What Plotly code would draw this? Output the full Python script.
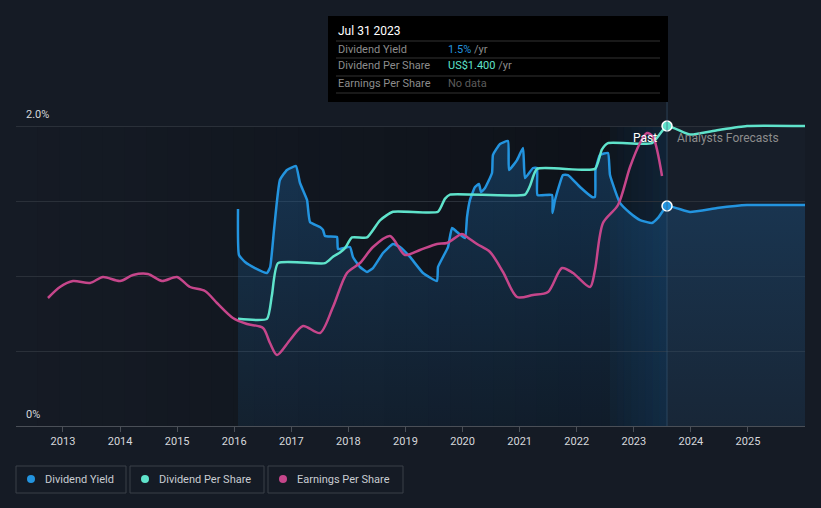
import plotly.graph_objects as go

# ---------------- data ----------------
yield_x = [2016.066, 2016.083, 2016.19, 2016.364, 2016.574, 2016.63, 2016.70, 2016.80, 2016.924, 2017.082,
           2017.152, 2017.275, 2017.327, 2017.502, 2017.555, 2017.59, 2017.80, 2017.818, 2018.028, 2018.08,
           2018.203, 2018.326, 2018.431, 2018.606, 2018.781, 2018.904, 2019.079, 2019.307, 2019.552, 2019.57,
           2019.657, 2019.745, 2019.815, 2019.903, 2020.043, 2020.078, 2020.13, 2020.218, 2020.288, 2020.323,
           2020.393, 2020.516, 2020.533, 2020.656, 2020.796, 2020.814, 2020.954, 2021.059, 2021.094, 2021.234,
           2021.304, 2021.313, 2021.567, 2021.576, 2021.62, 2021.76, 2021.847, 2022.057, 2022.268, 2022.32,
           2022.329, 2022.408, 2022.548, 2022.583, 2022.758, 2022.934, 2023.109, 2023.319, 2023.424, 2023.582,
           2023.985, 2024.458, 2024.983, 2025.999]
yield_pct = [1.447, 1.14, 1.093, 1.053, 1.02, 1.06, 1.32, 1.64, 1.707, 1.733,
             1.62, 1.507, 1.36, 1.327, 1.307, 1.267, 1.26, 1.18, 1.193, 1.127,
             1.06, 1.027, 1.053, 1.153, 1.213, 1.193, 1.127, 1.02, 0.967, 1.06,
             1.127, 1.193, 1.32, 1.293, 1.253, 1.393, 1.507, 1.593, 1.613, 1.56,
             1.587, 1.687, 1.807, 1.88, 1.90, 1.707, 1.773, 1.853, 1.653, 1.72,
             1.72, 1.54, 1.54, 1.42, 1.507, 1.673, 1.673, 1.593, 1.527, 1.527,
             1.707, 1.807, 1.82, 1.673, 1.487, 1.42, 1.373, 1.353, 1.387, 1.467,
             1.427, 1.453, 1.473, 1.473]

dps_x = [2016.066, 2016.574, 2016.66, 2016.767, 2017.59, 2017.73, 2017.853, 2017.94, 2018.063, 2018.326,
         2018.554, 2018.781, 2019.57, 2019.69, 2019.78, 2021.094, 2021.18, 2021.304, 2022.32, 2022.44,
         2022.548, 2023.319, 2023.582, 2023.985, 2024.458, 2024.983, 2025.999]
dps_usd = [0.50, 0.50, 0.61, 0.76, 0.76, 0.79, 0.81, 0.83, 0.88, 0.88,
           0.96, 1.00, 1.00, 1.06, 1.08, 1.08, 1.12, 1.20, 1.20, 1.29,
           1.32, 1.32, 1.40, 1.36, 1.38, 1.40, 1.40]

eps_x = [2012.737, 2012.947, 2013.175, 2013.473, 2013.70, 2013.999, 2014.226, 2014.489, 2014.734, 2014.997,
         2015.225, 2015.488, 2015.698, 2015.978, 2016.224, 2016.504, 2016.626, 2016.749, 2016.977, 2017.205,
         2017.502, 2017.73, 2017.975, 2018.203, 2018.431, 2018.729, 2018.992, 2019.254, 2019.552, 2019.727,
         2019.99, 2020.078, 2020.253, 2020.481, 2020.709, 2020.954, 2021.234, 2021.497, 2021.742, 2021.935,
         2022.233, 2022.32, 2022.46, 2022.723, 2022.934, 2023.109, 2023.232, 2023.336, 2023.494]
eps_usd = [1.28, 1.39, 1.45, 1.43, 1.49, 1.45, 1.51, 1.52, 1.45, 1.49,
           1.39, 1.35, 1.23, 1.08, 1.02, 0.98, 0.83, 0.71, 0.86, 1.00,
           0.93, 1.19, 1.53, 1.63, 1.79, 1.90, 1.71, 1.76, 1.82, 1.83,
           1.92, 1.89, 1.82, 1.74, 1.54, 1.29, 1.31, 1.34, 1.58, 1.53,
           1.39, 1.56, 2.03, 2.21, 2.59, 2.83, 2.93, 2.89, 2.50]

year_ticks = [2013, 2014, 2015, 2016, 2017, 2018, 2019, 2020, 2021, 2022, 2023, 2024, 2025]
year_labels = [str(y) for y in year_ticks]

now_x = 2023.582
now_yield = 1.467
now_dps = 1.40
x_start, x_end = 2012.177, 2025.999
y_top = 2.0
y_max = 2.1667  # yield axis max (plot area top)

legend_items = ["Dividend Yield", "Dividend Per Share", "Earnings Per Share"]

BLUE = "#2394df"
TEAL = "#5fe3cb"
MAGENTA = "#c6468b"
BG = "#151b25"

# ---------------- figure ----------------
fig = go.Figure()

fig.add_trace(go.Scatter(
    x=yield_x, y=yield_pct, mode="lines", yaxis="y",
    line=dict(color=BLUE, width=2.5, shape="spline", smoothing=0.4),
    fill="tozeroy",
    fillgradient=dict(type="vertical",
                      colorscale=[[0, "rgba(30,100,160,0.12)"], [1, "rgba(30,105,170,0.36)"]]),
    hoverinfo="skip", showlegend=False))

fig.add_trace(go.Scatter(
    x=dps_x, y=dps_usd, mode="lines", yaxis="y2",
    line=dict(color=TEAL, width=2.5, shape="spline", smoothing=0.5),
    hoverinfo="skip", showlegend=False))

fig.add_trace(go.Scatter(
    x=eps_x, y=eps_usd, mode="lines", yaxis="y3",
    line=dict(color=MAGENTA, width=2.5, shape="spline", smoothing=0.8),
    hoverinfo="skip", showlegend=False))

fig.add_trace(go.Scatter(
    x=[now_x], y=[now_yield], mode="markers", yaxis="y",
    marker=dict(color=BLUE, size=10, line=dict(color="white", width=1.5)),
    hoverinfo="skip", showlegend=False))
fig.add_trace(go.Scatter(
    x=[now_x], y=[now_dps], mode="markers", yaxis="y2",
    marker=dict(color=TEAL, size=10, line=dict(color="white", width=1.5)),
    hoverinfo="skip", showlegend=False))

shapes = []
# darkening gradient over the past region
n = 30
c0 = (21, 27, 37)
c1 = (13, 17, 24)
w = (now_x - x_start) / n
for i in range(n):
    t = (i + 0.5) / n
    col = tuple(round(c0[k] + (c1[k] - c0[k]) * t) for k in range(3))
    shapes.append(dict(type="rect", xref="x", yref="y", layer="below",
                       x0=x_start + i * w, x1=x_start + (i + 1) * w + 0.01, y0=0, y1=y_top,
                       fillcolor="rgb(%d,%d,%d)" % col, line=dict(width=0)))
# last-year highlight band
m = 8
bw = 1.0 / m
for i in range(m):
    a = 0.04 + 0.16 * (i + 0.5) / m
    shapes.append(dict(type="rect", xref="x", yref="y", layer="below",
                       x0=now_x - 1.0 + i * bw, x1=now_x - 1.0 + (i + 1) * bw + 0.003, y0=0, y1=y_top,
                       fillcolor="rgba(30,110,180,%.3f)" % a, line=dict(width=0)))
# forecast region
shapes.append(dict(type="rect", xref="x", yref="y", layer="below",
                   x0=now_x, x1=x_end, y0=0, y1=y_top,
                   fillcolor="#171e29", line=dict(width=0)))
# now line
shapes.append(dict(type="line", xref="x", yref="paper", x0=now_x, x1=now_x, y0=0, y1=1,
                   line=dict(color="rgba(60,90,120,0.6)", width=1)))

# tooltip box (pixel -> paper helpers)
L, R, T, B = 16, 805, 101, 426
def px(x):
    return (x - L) / (R - L)
def py(y):
    return (B - y) / (B - T)

shapes.append(dict(type="rect", xref="paper", yref="paper",
                   x0=px(328), x1=px(668), y0=py(16), y1=py(102),
                   fillcolor="#000000", line=dict(width=0), layer="above"))
for yy in [41, 58, 76, 93]:
    shapes.append(dict(type="line", xref="paper", yref="paper",
                       x0=px(336), x1=px(660), y0=py(yy), y1=py(yy),
                       line=dict(color="#333333", width=1), layer="above"))

# legend boxes
legend_boxes = [(16, 126), (130, 264), (268, 403)]
legend_colors = [BLUE, TEAL, MAGENTA]
for (x0, x1), col in zip(legend_boxes, legend_colors):
    shapes.append(dict(type="rect", xref="paper", yref="paper",
                       x0=px(x0), x1=px(x1), y0=py(466), y1=py(493),
                       line=dict(color="#3b4049", width=1), fillcolor="rgba(0,0,0,0)"))
    shapes.append(dict(type="circle", xref="paper", yref="paper",
                       x0=px(x0 + 11), x1=px(x0 + 19), y0=py(475), y1=py(483),
                       fillcolor=col, line=dict(width=0)))

annotations = []
def txt(x, y, s, color, size=11, anchor="left"):
    annotations.append(dict(xref="paper", yref="paper", x=px(x), y=py(y), text=s,
                            showarrow=False, xanchor=anchor, yanchor="middle",
                            font=dict(color=color, size=size, family="Roboto")))

txt(24, 114, "2.0%", "#d5d8dc", 11)
txt(24, 414, "0%", "#d5d8dc", 11)
txt(336, 31, "Jul 31 2023", "#ffffff", 12)
txt(336, 49, "Dividend Yield", "#8c8c8c", 11)
txt(336, 66, "Dividend Per Share", "#8c8c8c", 11)
txt(336, 84, "Earnings Per Share", "#8c8c8c", 11)
txt(446, 49, "<span style='color:%s'>1.5%%</span> /yr" % BLUE, "#8c8c8c", 11)
txt(446, 66, "<span style='color:%s'>US$1.400</span> /yr" % TEAL, "#8c8c8c", 11)
txt(446, 84, "No data", "#5c5c5c", 11)
txt(659, 138, "Past", "#ffffff", 12, "right")
txt(675, 138, "Analysts Forecasts", "#8c8c8c", 12)
for (x0, x1), label in zip(legend_boxes, legend_items):
    txt(x0 + 27, 479, label, "#c8ccd2", 11)

fig.update_layout(
    width=821, height=508,
    margin=dict(l=L, r=821 - R, t=T, b=508 - B),
    paper_bgcolor=BG, plot_bgcolor=BG,
    showlegend=False,
    font=dict(family="Roboto", color="#d0d3d8"),
    xaxis=dict(range=[x_start, x_end], tickvals=year_ticks, ticktext=year_labels,
               showgrid=False, zeroline=False, showline=True, linecolor="#4a4f57", linewidth=1,
               ticks="outside", ticklen=5, tickcolor="#4a4f57",
               tickfont=dict(size=11, color="#d5d8dc", family="Roboto")),
    yaxis=dict(range=[0, y_max], tickvals=[0.5, 1.0, 1.5, 2.0], showticklabels=False,
               showgrid=True, gridcolor="#2a3039", gridwidth=1, zeroline=False, fixedrange=True),
    yaxis2=dict(range=[0, y_max * 1.4 / 2.0], overlaying="y", visible=False),
    yaxis3=dict(range=[0, y_max * 3.0 / 2.0], overlaying="y", visible=False),
    shapes=shapes, annotations=annotations,
)

fig.write_html("out.html", config={"displayModeBar": False},
               post_script="document.body.style.margin='0px';document.body.style.background='%s';" % BG)
